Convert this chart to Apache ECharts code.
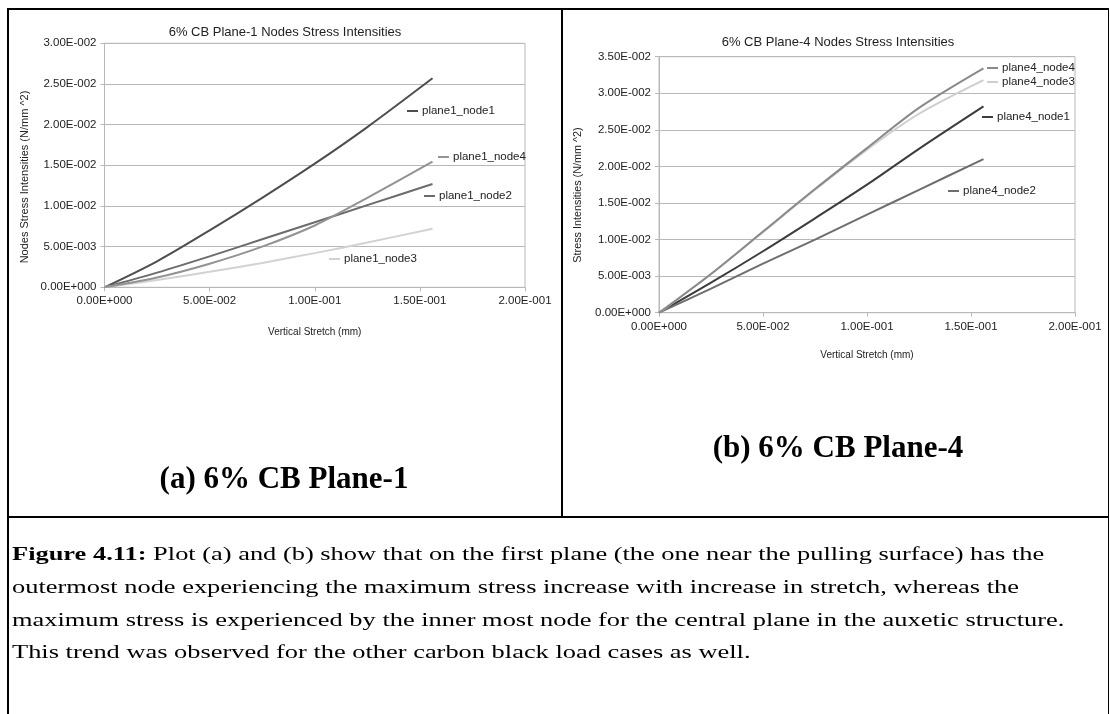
<!DOCTYPE html>
<html>
<head>
<meta charset="utf-8">
<script src="https://cdn.jsdelivr.net/npm/echarts@6/dist/echarts.min.js"></script>
<style>
  html, body { margin: 0; padding: 0; background: #fff; }
  #page { position: relative; width: 1110px; height: 714px; overflow: hidden; background: #fff; }
  #chart { position: absolute; left: 0; top: 0; width: 1110px; height: 714px; }
  .rule { position: absolute; background: #000; }
  .sub { position: absolute; font-family: "Liberation Serif", "DejaVu Serif", serif; font-weight: bold;
         font-size: 31px; color: #000; white-space: nowrap; transform: translateX(-50%); }
  .cap { position: absolute; left: 12px; font-family: "Liberation Serif", "DejaVu Serif", serif;
         font-size: 19px; line-height: 24px; color: #000; white-space: nowrap;
         transform-origin: 0 50%; transform: scaleX(1.39); }
</style>
</head>
<body>
<div id="page">
  <div id="chart"></div>
  <!-- table rules -->
  <div class="rule" style="left:7px;top:8px;width:1102px;height:1.5px;"></div>
  <div class="rule" style="left:7px;top:8px;width:1.5px;height:706px;"></div>
  <div class="rule" style="left:561px;top:8px;width:1.5px;height:508px;"></div>
  <div class="rule" style="left:1107.5px;top:8px;width:1.5px;height:706px;"></div>
  <div class="rule" style="left:7px;top:516px;width:1102px;height:1.5px;"></div>
  <div class="sub" style="left:284px;top:460px;">(a) 6% CB Plane-1</div>
  <div class="sub" style="left:838px;top:429px;">(b) 6% CB Plane-4</div>
  <div class="cap" style="top:542px;"><b>Figure 4.11:</b> Plot (a) and (b) show that on the first plane (the one near the pulling surface) has the</div>
  <div class="cap" style="top:575px;">outermost node experiencing the maximum stress increase with increase in stretch, whereas the</div>
  <div class="cap" style="top:608px;">maximum stress is experienced by the inner most node for the central plane in the auxetic structure.</div>
  <div class="cap" style="top:640px;">This trend was observed for the other carbon black load cases as well.</div>
</div>
<script>
// Vertical stretch (mm) at which nodal stresses were sampled
const stretch = [0, 0.025, 0.05, 0.075, 0.1, 0.125, 0.156];

// Plane-1 node stress intensities (N/mm^2)
const plane1_node1 = [0, 0.0032, 0.0070, 0.0110, 0.0152, 0.0197, 0.0257];
const plane1_node2 = [0, 0.0018, 0.0038, 0.0059, 0.0080, 0.0101, 0.0127];
const plane1_node3 = [0, 0.0009, 0.0019, 0.0030, 0.0042, 0.0055, 0.0072];
const plane1_node4 = [0, 0.0012, 0.0029, 0.0050, 0.0076, 0.0110, 0.01545];

// Plane-4 node stress intensities (N/mm^2)
const plane4_node1 = [0, 0.0041, 0.0084, 0.0129, 0.0175, 0.0224, 0.0282];
const plane4_node2 = [0, 0.0033, 0.0067, 0.0100, 0.0134, 0.0168, 0.0210];
const plane4_node3 = [0, 0.0053, 0.0110, 0.0168, 0.0223, 0.0272, 0.0318];
const plane4_node4 = [0, 0.0053, 0.0111, 0.0169, 0.0225, 0.0280, 0.0334];

const titles = ['6% CB Plane-1 Nodes Stress Intensities', '6% CB Plane-4 Nodes Stress Intensities'];
const yNames = ['Nodes Stress Intensities (N/mm ^2)', 'Stress Intensities (N/mm ^2)'];
const xName = 'Vertical Stretch (mm)';

function pairs(ys) { return stretch.map((x, i) => [x, ys[i]]); }

// Spreadsheet-style scientific notation, e.g. 2.50E-002
function sci(v) {
  if (Math.abs(v) < 1e-12) return '0.00E+000';
  let e = Math.floor(Math.log10(Math.abs(v)) + 1e-9);
  let ms = (v / Math.pow(10, e)).toFixed(2);
  if (Math.abs(parseFloat(ms)) >= 10) { e += 1; ms = (v / Math.pow(10, e)).toFixed(2); }
  return ms + 'E' + (e < 0 ? '-' : '+') + String(Math.abs(e)).padStart(3, '0');
}

const FONT = '"Liberation Sans", Arial, sans-serif';
const gridLine = '#b8b8b8';
const txt = '#222';

function xAxis(gi, gap) {
  return {
    type: 'value', gridIndex: gi, min: 0, max: 0.2, interval: 0.05,
    name: xName, nameLocation: 'middle', nameGap: gap,
    nameTextStyle: { fontFamily: FONT, fontSize: 10, color: txt },
    axisLine: { show: true, onZero: false, lineStyle: { color: gridLine } },
    axisTick: { show: true, length: 4, lineStyle: { color: gridLine } },
    axisLabel: { fontFamily: FONT, fontSize: 11.5, color: txt, margin: 8, formatter: sci },
    splitLine: { show: false }
  };
}
function yAxis(gi, max) {
  return {
    type: 'value', gridIndex: gi, min: 0, max: max, interval: 0.005,
    axisLine: { show: true, lineStyle: { color: gridLine } },
    axisTick: { show: true, length: 4, lineStyle: { color: gridLine } },
    axisLabel: { fontFamily: FONT, fontSize: 11.5, color: txt, margin: 8, formatter: sci },
    splitLine: { show: true, lineStyle: { color: gridLine, width: 1 } }
  };
}
function line(name, gi, ys, color) {
  return {
    name: name, type: 'line', xAxisIndex: gi, yAxisIndex: gi,
    data: pairs(ys), showSymbol: false, smooth: 0.3, color: color,
    lineStyle: { width: 2, color: color }, animation: false
  };
}
function key(name, left, top) {
  return {
    data: [name], left: left, top: top, padding: 0, orient: 'horizontal',
    icon: 'rect', itemWidth: 11, itemHeight: 2, selectedMode: false,
    textStyle: { fontFamily: FONT, fontSize: 11.5, color: txt, padding: [0, 0, 0, -1] }
  };
}
// rotated axis title beside a value axis
function yTitle(text, x, y, size) {
  return {
    type: 'text', x: x, y: y, rotation: Math.PI / 2, silent: true,
    style: { text: text, fontFamily: FONT, fontSize: size, fill: txt, align: 'center', verticalAlign: 'middle' }
  };
}

const chart = echarts.init(document.getElementById('chart'), null, { renderer: 'canvas' });
chart.setOption({
  animation: false,
  title: [
    { text: titles[0], left: 285, top: 26, textAlign: 'center', padding: 0,
      textStyle: { fontFamily: FONT, fontSize: 13, fontWeight: 'normal', color: txt } },
    { text: titles[1], left: 838, top: 36, textAlign: 'center', padding: 0,
      textStyle: { fontFamily: FONT, fontSize: 13, fontWeight: 'normal', color: txt } }
  ],
  grid: [
    { left: 104.5, top: 43.3, width: 420.5, height: 244, show: true, borderColor: gridLine, borderWidth: 1, backgroundColor: 'transparent' },
    { left: 659, top: 56.7, width: 416, height: 256, show: true, borderColor: gridLine, borderWidth: 1, backgroundColor: 'transparent' }
  ],
  xAxis: [xAxis(0, 40), xAxis(1, 38)],
  yAxis: [yAxis(0, 0.03), yAxis(1, 0.035)],
  graphic: [
    yTitle(yNames[0], 25, 177, 11),
    yTitle(yNames[1], 578, 195, 10.8)
  ],
  legend: [
    key('plane1_node1', 407, 105),
    key('plane1_node4', 438, 151),
    key('plane1_node2', 424, 190),
    key('plane1_node3', 329, 253),
    key('plane4_node4', 987, 62),
    key('plane4_node3', 987, 76),
    key('plane4_node1', 982, 111),
    key('plane4_node2', 948, 185)
  ],
  series: [
    line('plane1_node1', 0, plane1_node1, '#4e4e4e'),
    line('plane1_node2', 0, plane1_node2, '#6c6c6c'),
    line('plane1_node3', 0, plane1_node3, '#d2d2d2'),
    line('plane1_node4', 0, plane1_node4, '#939393'),
    line('plane4_node1', 1, plane4_node1, '#3c3c3c'),
    line('plane4_node2', 1, plane4_node2, '#6e6e6e'),
    line('plane4_node3', 1, plane4_node3, '#cecece'),
    line('plane4_node4', 1, plane4_node4, '#8a8a8a')
  ]
});
</script>
</body>
</html>
